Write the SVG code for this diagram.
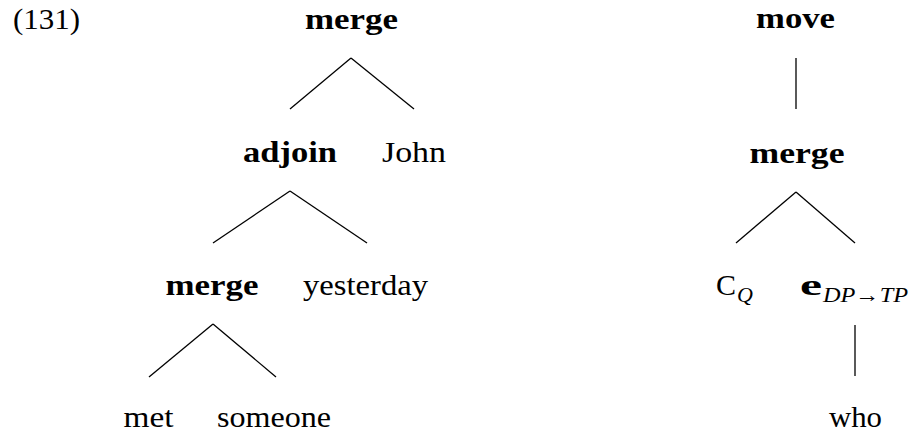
<svg xmlns="http://www.w3.org/2000/svg" width="912" height="435" viewBox="0 0 912 435">
<style>
text{font-family:"Liberation Serif","DejaVu Serif","Times New Roman",serif;font-size:30px;fill:#000}
.b{font-weight:bold}
.m{text-anchor:middle}
.sub{font-size:22px;font-style:italic}
line{stroke:#000;stroke-width:1.3}
</style>
<rect width="912" height="435" fill="#fff"/>
<text id="label" x="13" y="29" textLength="67" lengthAdjust="spacingAndGlyphs">(131)</text>
<g id="connectors">
<line x1="351" y1="58" x2="290" y2="109"/>
<line x1="351" y1="58" x2="414" y2="109"/>
<line x1="290" y1="191" x2="213" y2="243"/>
<line x1="290" y1="191" x2="367" y2="243"/>
<line x1="213" y1="324" x2="149" y2="377"/>
<line x1="213" y1="324" x2="276" y2="377"/>
<line x1="796" y1="58" x2="796" y2="109"/>
<line x1="796" y1="192" x2="736" y2="243"/>
<line x1="796" y1="192" x2="855" y2="243"/>
<line x1="855" y1="325" x2="855" y2="376"/>
</g>
<g id="n-merge1"><text class="b m" x="351.5" y="29" textLength="93" lengthAdjust="spacingAndGlyphs">merge</text></g>
<g id="n-adjoin"><text class="b m" x="290" y="162" textLength="94" lengthAdjust="spacingAndGlyphs">adjoin</text></g>
<g id="n-john"><text class="m" x="414" y="162" textLength="64" lengthAdjust="spacingAndGlyphs">John</text></g>
<g id="n-merge2"><text class="b m" x="212" y="295" textLength="93" lengthAdjust="spacingAndGlyphs">merge</text></g>
<g id="n-yesterday"><text class="m" x="365.5" y="295" textLength="125" lengthAdjust="spacingAndGlyphs">yesterday</text></g>
<g id="n-met"><text class="m" x="148.5" y="427" textLength="50" lengthAdjust="spacingAndGlyphs">met</text></g>
<g id="n-someone"><text class="m" x="274" y="427" textLength="114" lengthAdjust="spacingAndGlyphs">someone</text></g>
<g id="n-move"><text class="b m" x="795.5" y="28" textLength="79" lengthAdjust="spacingAndGlyphs">move</text></g>
<g id="n-merge3"><text class="b m" x="797" y="163" textLength="95" lengthAdjust="spacingAndGlyphs">merge</text></g>
<g id="n-cq"><text x="716" y="295">C<tspan class="sub" dy="7" dx="1">Q</tspan></text></g>
<g id="n-e"><text class="b" x="800" y="295" textLength="22" lengthAdjust="spacingAndGlyphs">e</text><text class="sub" x="823" y="302" textLength="85" lengthAdjust="spacingAndGlyphs">DP→TP</text></g>
<g id="n-who"><text class="m" x="855.5" y="427" textLength="53" lengthAdjust="spacingAndGlyphs">who</text></g>
</svg>
